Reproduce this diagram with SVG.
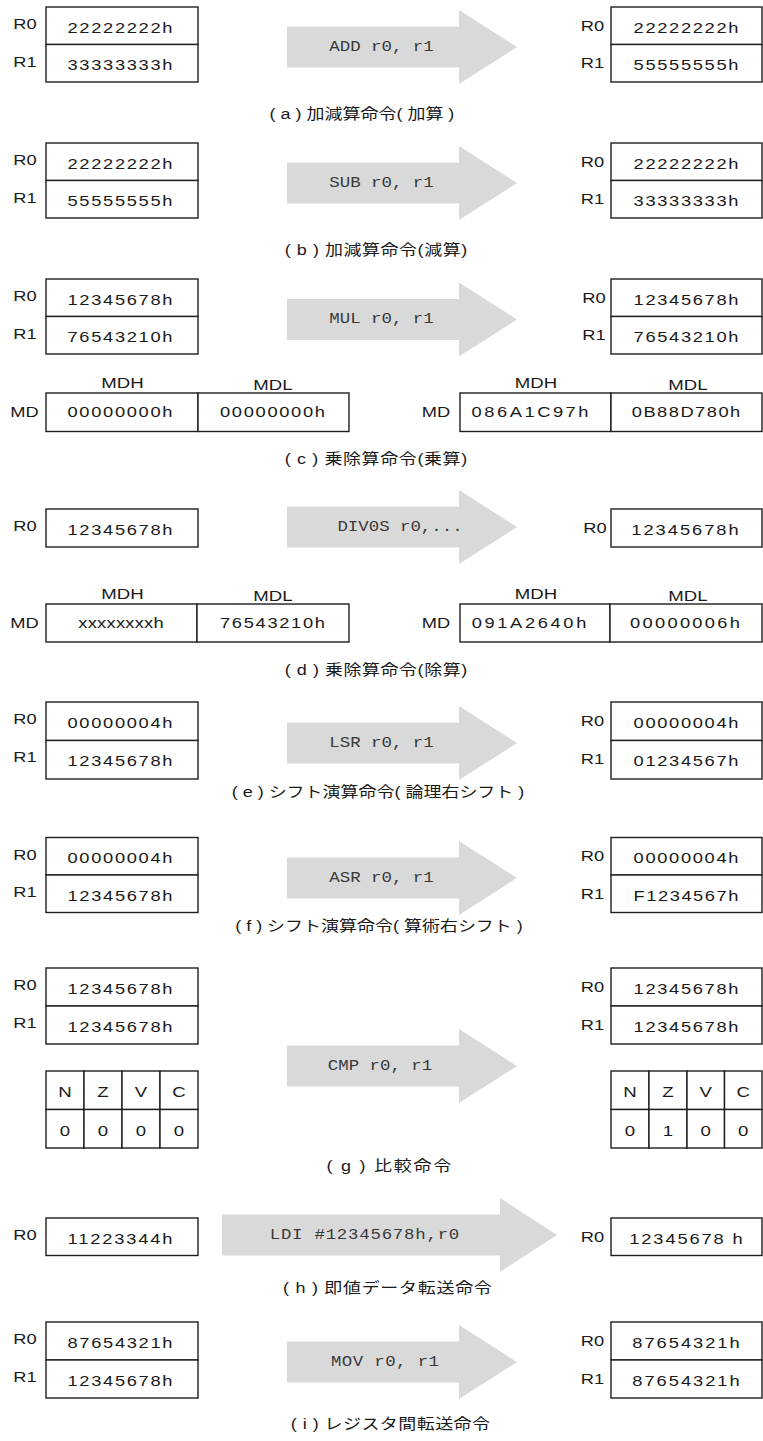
<svg xmlns="http://www.w3.org/2000/svg" xmlns:xlink="http://www.w3.org/1999/xlink" width="763" height="1441" viewBox="0 0 763 1441">
<style>
.bg{fill:#fff}
.bx{fill:#fff;stroke:#1e1e1e;stroke-width:1.4}
.ar{fill:#d9d9d9}
text{transform-box:fill-box;transform-origin:50% 50%;text-anchor:middle}
.v{font-family:"Liberation Sans",Arial,sans-serif;font-size:15px;fill:#1a1a1a;transform:scaleX(1.22)}
.l{font-family:"Liberation Sans",Arial,sans-serif;font-size:15px;fill:#1a1a1a;transform:scaleX(1.22)}
.f{font-family:"Liberation Sans",Arial,sans-serif;font-size:15.5px;fill:#1a1a1a;transform:scaleX(1.2)}
.m{font-family:"Liberation Mono","Courier New",monospace;font-size:14.5px;fill:#3a3a3a;transform:scaleX(1.2)}
.c{font-family:"Liberation Sans","Noto Sans CJK JP",sans-serif;font-size:15px;fill:#1a1a1a;transform:scaleX(1.2)}
</style>
<defs>
<path id="arw" d="M287,-20.5 H459 V-37 L517,0 L459,37 V20.5 H287 Z"/>
</defs>
<rect class="bg" x="0" y="0" width="763" height="1441"/>

<g id="connectors">
<use xlink:href="#arw" class="ar" y="47"/>
<text class="m" x="381.5" y="51">ADD r0, r1</text>
<use xlink:href="#arw" class="ar" y="183"/>
<text class="m" x="381.5" y="187">SUB r0, r1</text>
<use xlink:href="#arw" class="ar" y="319.5"/>
<text class="m" x="381.5" y="323.5">MUL r0, r1</text>
<use xlink:href="#arw" class="ar" y="527"/>
<text class="m" x="400" y="531">DIV0S r0,...</text>
<use xlink:href="#arw" class="ar" y="743"/>
<text class="m" x="381.5" y="747">LSR r0, r1</text>
<use xlink:href="#arw" class="ar" y="878"/>
<text class="m" x="381.5" y="882">ASR r0, r1</text>
<use xlink:href="#arw" class="ar" y="1066"/>
<text class="m" x="380" y="1070">CMP r0, r1</text>
<path class="ar" d="M222,1214.5 H500 V1198 L557,1235 L500,1272 V1255.5 H222 Z"/>
<text class="m" x="364.5" y="1239" textLength="158">LDI #12345678h,r0</text>
<use xlink:href="#arw" class="ar" y="1362"/>
<text class="m" x="385" y="1366" textLength="90">MOV r0, r1</text>
</g>

<!-- (a) -->
<g id="a-before">
<rect class="bx" x="46" y="7" width="152" height="37.5"/>
<rect class="bx" x="46" y="44.5" width="152" height="37.5"/>
<text class="l" x="25" y="29.5">R0</text>
<text class="l" x="25" y="67">R1</text>
<text class="v" x="120" y="33" textLength="86">22222222h</text>
<text class="v" x="120" y="70.5" textLength="86">33333333h</text>
</g>
<g id="a-after">
<rect class="bx" x="611" y="7" width="151" height="37.5"/>
<rect class="bx" x="611" y="44.5" width="151" height="37.5"/>
<text class="l" x="592.5" y="31">R0</text>
<text class="l" x="592.5" y="68.5">R1</text>
<text class="v" x="686" y="33" textLength="86">22222222h</text>
<text class="v" x="686" y="70.5" textLength="86">55555555h</text>
</g>
<g id="a-caption"><text class="c" x="362" y="119">( a ) 加減算命令( 加算 )</text></g>

<!-- (b) -->
<g id="b-before">
<rect class="bx" x="46" y="143" width="152" height="37.5"/>
<rect class="bx" x="46" y="180.5" width="152" height="37.5"/>
<text class="l" x="25" y="165.5">R0</text>
<text class="l" x="25" y="203">R1</text>
<text class="v" x="120" y="169" textLength="86">22222222h</text>
<text class="v" x="120" y="206.5" textLength="86">55555555h</text>
</g>
<g id="b-after">
<rect class="bx" x="611" y="143" width="151" height="37.5"/>
<rect class="bx" x="611" y="180.5" width="151" height="37.5"/>
<text class="l" x="592.5" y="167">R0</text>
<text class="l" x="592.5" y="204.5">R1</text>
<text class="v" x="686" y="169" textLength="86">22222222h</text>
<text class="v" x="686" y="206.5" textLength="86">33333333h</text>
</g>
<g id="b-caption"><text class="c" x="376" y="255" textLength="152">( b ) 加減算命令(減算)</text></g>

<!-- (c) -->
<g id="c-before">
<rect class="bx" x="46" y="279" width="152" height="37.5"/>
<rect class="bx" x="46" y="316.5" width="152" height="37.5"/>
<text class="l" x="25" y="301.5">R0</text>
<text class="l" x="25" y="339">R1</text>
<text class="v" x="120" y="305" textLength="86">12345678h</text>
<text class="v" x="120" y="342.5" textLength="86">76543210h</text>
<text class="f" x="122.5" y="388">MDH</text>
<text class="f" x="273" y="390">MDL</text>
<rect class="bx" x="46" y="393" width="152" height="38.5"/>
<rect class="bx" x="198" y="393" width="151" height="38.5"/>
<text class="l" x="24.5" y="417">MD</text>
<text class="v" x="120" y="417.5" textLength="86">00000000h</text>
<text class="v" x="272.5" y="417.5" textLength="86">00000000h</text>
</g>
<g id="c-after">
<rect class="bx" x="611" y="279" width="151" height="37.5"/>
<rect class="bx" x="611" y="316.5" width="151" height="37.5"/>
<text class="l" x="594" y="303">R0</text>
<text class="l" x="594" y="340.5">R1</text>
<text class="v" x="686" y="305" textLength="86">12345678h</text>
<text class="v" x="686" y="342.5" textLength="86">76543210h</text>
<text class="f" x="536" y="388">MDH</text>
<text class="f" x="688" y="390">MDL</text>
<rect class="bx" x="460" y="393" width="151" height="38.5"/>
<rect class="bx" x="611" y="393" width="151" height="38.5"/>
<text class="l" x="436" y="417">MD</text>
<text class="v" x="530" y="417.5" textLength="96">086A1C97h</text>
<text class="v" x="686" y="417.5" textLength="89">0B88D780h</text>
</g>
<g id="c-caption"><text class="c" x="376" y="464" textLength="152">( c ) 乗除算命令(乗算)</text></g>

<!-- (d) -->
<g id="d-before">
<rect class="bx" x="46" y="509" width="152" height="38"/>
<text class="l" x="25" y="531.5">R0</text>
<text class="v" x="120" y="535" textLength="86">12345678h</text>
<text class="f" x="122.5" y="599">MDH</text>
<text class="f" x="273" y="601">MDL</text>
<rect class="bx" x="46" y="604" width="151" height="38"/>
<rect class="bx" x="197" y="604" width="152" height="38"/>
<text class="l" x="24.5" y="628">MD</text>
<text class="v" x="121" y="628.5" textLength="70">xxxxxxxxh</text>
<text class="v" x="272.5" y="628.5" textLength="86">76543210h</text>
</g>
<g id="d-after">
<rect class="bx" x="611" y="509" width="151" height="38"/>
<text class="l" x="595" y="533">R0</text>
<text class="v" x="685" y="535" textLength="88">12345678h</text>
<text class="f" x="536" y="599">MDH</text>
<text class="f" x="688" y="601">MDL</text>
<rect class="bx" x="460" y="604" width="150" height="38"/>
<rect class="bx" x="610" y="604" width="152" height="38"/>
<text class="l" x="436" y="628">MD</text>
<text class="v" x="529" y="628.5" textLength="94">091A2640h</text>
<text class="v" x="685" y="628.5" textLength="90">00000006h</text>
</g>
<g id="d-caption"><text class="c" x="376" y="675" textLength="152">( d ) 乗除算命令(除算)</text></g>

<!-- (e) -->
<g id="e-before">
<rect class="bx" x="46" y="702" width="152" height="38.5"/>
<rect class="bx" x="46" y="740.5" width="152" height="38.5"/>
<text class="l" x="25" y="724.5">R0</text>
<text class="l" x="25" y="762.5">R1</text>
<text class="v" x="120" y="728" textLength="86">00000004h</text>
<text class="v" x="120" y="766.5" textLength="86">12345678h</text>
</g>
<g id="e-after">
<rect class="bx" x="611" y="702" width="151" height="38.5"/>
<rect class="bx" x="611" y="740.5" width="151" height="38.5"/>
<text class="l" x="592.5" y="726">R0</text>
<text class="l" x="592.5" y="764.5">R1</text>
<text class="v" x="686" y="728" textLength="86">00000004h</text>
<text class="v" x="686" y="766.5" textLength="86">01234567h</text>
</g>
<g id="e-caption"><text class="c" x="378" y="797">( e ) シフト演算命令( 論理右シフト )</text></g>

<!-- (f) -->
<g id="f-before">
<rect class="bx" x="46" y="837.5" width="152" height="37.5"/>
<rect class="bx" x="46" y="875" width="152" height="37.5"/>
<text class="l" x="25" y="860">R0</text>
<text class="l" x="25" y="897.5">R1</text>
<text class="v" x="120" y="863.5" textLength="86">00000004h</text>
<text class="v" x="120" y="901" textLength="86">12345678h</text>
</g>
<g id="f-after">
<rect class="bx" x="611" y="837.5" width="151" height="37.5"/>
<rect class="bx" x="611" y="875" width="151" height="37.5"/>
<text class="l" x="592.5" y="861.5">R0</text>
<text class="l" x="592.5" y="899">R1</text>
<text class="v" x="686" y="863.5" textLength="86">00000004h</text>
<text class="v" x="686" y="901" textLength="86">F1234567h</text>
</g>
<g id="f-caption"><text class="c" x="379" y="931">( f ) シフト演算命令( 算術右シフト )</text></g>

<!-- (g) -->
<g id="g-before">
<rect class="bx" x="46" y="968" width="152" height="38"/>
<rect class="bx" x="46" y="1006" width="152" height="38"/>
<text class="l" x="25" y="990.5">R0</text>
<text class="l" x="25" y="1028.5">R1</text>
<text class="v" x="120" y="994" textLength="86">12345678h</text>
<text class="v" x="120" y="1032" textLength="86">12345678h</text>
</g>
<g id="g-flags-before">
<rect class="bx" x="46" y="1071" width="38" height="38.5"/>
<rect class="bx" x="84" y="1071" width="38" height="38.5"/>
<rect class="bx" x="122" y="1071" width="38" height="38.5"/>
<rect class="bx" x="160" y="1071" width="38" height="38.5"/>
<rect class="bx" x="46" y="1109.5" width="38" height="38.5"/>
<rect class="bx" x="84" y="1109.5" width="38" height="38.5"/>
<rect class="bx" x="122" y="1109.5" width="38" height="38.5"/>
<rect class="bx" x="160" y="1109.5" width="38" height="38.5"/>
<text class="f" x="65" y="1097.5">N</text>
<text class="f" x="103" y="1097.5">Z</text>
<text class="f" x="141" y="1097.5">V</text>
<text class="f" x="179" y="1097.5">C</text>
<text class="f" x="65" y="1136">0</text>
<text class="f" x="103" y="1136">0</text>
<text class="f" x="141" y="1136">0</text>
<text class="f" x="179" y="1136">0</text>
</g>
<g id="g-after">
<rect class="bx" x="611" y="968" width="151" height="38"/>
<rect class="bx" x="611" y="1006" width="151" height="38"/>
<text class="l" x="592.5" y="992">R0</text>
<text class="l" x="592.5" y="1030">R1</text>
<text class="v" x="686" y="994" textLength="86">12345678h</text>
<text class="v" x="686" y="1032" textLength="86">12345678h</text>
</g>
<g id="g-flags-after">
<rect class="bx" x="611" y="1071" width="38" height="38.5"/>
<rect class="bx" x="649" y="1071" width="38" height="38.5"/>
<rect class="bx" x="687" y="1071" width="37.5" height="38.5"/>
<rect class="bx" x="724.5" y="1071" width="37.5" height="38.5"/>
<rect class="bx" x="611" y="1109.5" width="38" height="38.5"/>
<rect class="bx" x="649" y="1109.5" width="38" height="38.5"/>
<rect class="bx" x="687" y="1109.5" width="37.5" height="38.5"/>
<rect class="bx" x="724.5" y="1109.5" width="37.5" height="38.5"/>
<text class="f" x="630" y="1097.5">N</text>
<text class="f" x="668" y="1097.5">Z</text>
<text class="f" x="705.7" y="1097.5">V</text>
<text class="f" x="743.2" y="1097.5">C</text>
<text class="f" x="630" y="1136">0</text>
<text class="f" x="668" y="1136">1</text>
<text class="f" x="705.7" y="1136">0</text>
<text class="f" x="743.2" y="1136">0</text>
</g>
<g id="g-caption"><text class="c" x="389" y="1171" textLength="104">( g ) 比較命令</text></g>

<!-- (h) -->
<g id="h-before">
<rect class="bx" x="46" y="1218" width="152" height="37.5"/>
<text class="l" x="25" y="1240.5">R0</text>
<text class="v" x="120" y="1244" textLength="86">11223344h</text>
</g>
<g id="h-after">
<rect class="bx" x="611" y="1218" width="151" height="37.5"/>
<text class="l" x="592.5" y="1242">R0</text>
<text class="v" x="686" y="1244" textLength="93">12345678 h</text>
</g>
<g id="h-caption"><text class="c" x="387.5" y="1293" textLength="174">( h ) 即値データ転送命令</text></g>

<!-- (i) -->
<g id="i-before">
<rect class="bx" x="46" y="1322" width="152" height="38"/>
<rect class="bx" x="46" y="1360" width="152" height="38"/>
<text class="l" x="25" y="1344.5">R0</text>
<text class="l" x="25" y="1382.5">R1</text>
<text class="v" x="120" y="1348" textLength="86">87654321h</text>
<text class="v" x="120" y="1386" textLength="86">12345678h</text>
</g>
<g id="i-after">
<rect class="bx" x="611" y="1322" width="151" height="38"/>
<rect class="bx" x="611" y="1360" width="151" height="38"/>
<text class="l" x="592.5" y="1346">R0</text>
<text class="l" x="592.5" y="1384">R1</text>
<text class="v" x="686" y="1348" textLength="88">87654321h</text>
<text class="v" x="686" y="1386" textLength="88">87654321h</text>
</g>
<g id="i-caption"><text class="c" x="390.5" y="1429" textLength="166">( i ) レジスタ間転送命令</text></g>
</svg>
